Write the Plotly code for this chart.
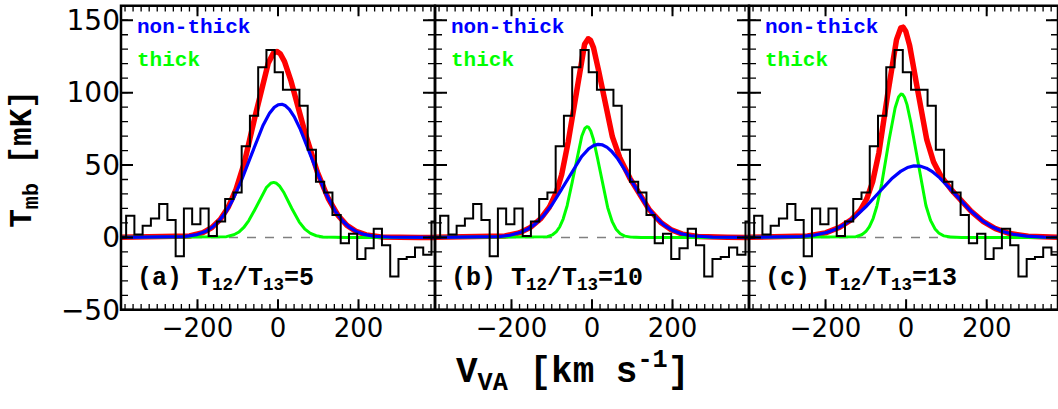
import numpy as np
import plotly.graph_objects as go

# ---------------- data ----------------
# channel centres (km/s) of the observed spectrum
vel = [-387.5, -367, -346.5, -326, -305.5, -285, -264.5, -244, -223.5, -203,
       -182.5, -162, -141.5, -121, -100.5, -80, -59.5, -39, -18.5, 2,
       22.5, 43, 63.5, 84, 104.5, 125, 145.5, 166, 186.5, 207,
       227.5, 248, 268.5, 289, 309.5, 330, 350.5, 371, 391.5]
# observed T_mb (mK), same spectrum in all panels
tmb = [0, 15, 2, 8, 13, 23, 12, -13, 20, 9,
       20, 1, 11, 26.5, 31, 63, 84, 117.5, 129.5, 114,
       102, 102, 91, 60.5, 38.5, 31, 15.5, -4, 2.5, -15,
       -7.5, 6, -5.5, -27, -15, -13.5, -7, -12, 11]

panel_tags = ["(a)", "(b)", "(c)"]
ratios = [5, 10, 13]
# Gaussian components per panel: amplitude (mK), centre (km/s), sigma (km/s)
thick_amp = [38, 76.5, 99]
thick_cen = [-11, -12, -11.5]
thick_sig = [40, 31.5, 35]
nonthick_amp = [92, 64.3, 49.5]
nonthick_cen = [7, 17, 25]
nonthick_sig = [75, 80.5, 96]

xticks = [-200, 0, 200]
yticks = [-50, 0, 50, 100, 150]

# ---------------- figure ----------------
W, H = 1058, 409
fig = go.Figure()

px_left = [121, 435, 749]
px_right = [435, 749, 1058]
xranges = [[-390, 390], [-390, 390], [-390, 377]]
yrange = [-50, 160]
ytop, ybot = 5, 323

vgrid = np.linspace(-400, 400, 1601)
x_minor = np.arange(-380, 381, 20)
y_minor = np.arange(-50, 161, 10)


def gauss(a, c, s):
    return a * np.exp(-0.5 * ((vgrid - c) / s) ** 2)


def xtick_path(vals, frac):
    parts = []
    for t in vals:
        parts.append(f"M{t},0L{t},{frac}")
        parts.append(f"M{t},1L{t},{1 - frac}")
    return "".join(parts)


def ytick_path(vals, frac):
    parts = []
    for v in vals:
        parts.append(f"M0,{v}L{frac},{v}")
        parts.append(f"M1,{v}L{1 - frac},{v}")
    return "".join(parts)


ph = ybot - ytop
for i in range(3):
    xa = "x" if i == 0 else f"x{i+1}"
    ya = "y" if i == 0 else f"y{i+1}"
    g = gauss(thick_amp[i], thick_cen[i], thick_sig[i])
    b = gauss(nonthick_amp[i], nonthick_cen[i], nonthick_sig[i])
    fig.add_trace(go.Scatter(x=vgrid, y=g + b, mode="lines", xaxis=xa, yaxis=ya,
                             line=dict(color="#ff0000", width=5.5), showlegend=False))
    fig.add_trace(go.Scatter(x=vgrid, y=g, mode="lines", xaxis=xa, yaxis=ya,
                             line=dict(color="#00ff00", width=3), showlegend=False))
    fig.add_trace(go.Scatter(x=vgrid, y=b, mode="lines", xaxis=xa, yaxis=ya,
                             line=dict(color="#0000ff", width=3.2), showlegend=False))
    fig.add_trace(go.Scatter(x=vel, y=tmb, mode="lines", line_shape="hvh",
                             xaxis=xa, yaxis=ya,
                             line=dict(color="black", width=2), showlegend=False))

    xdom = [px_left[i] / W, px_right[i] / W]
    ydom = [1 - ybot / H, 1 - ytop / H]
    pw = px_right[i] - px_left[i]
    xkey = "xaxis" if i == 0 else f"xaxis{i+1}"
    ykey = "yaxis" if i == 0 else f"yaxis{i+1}"
    fig.update_layout(**{
        xkey: dict(domain=xdom, range=xranges[i], anchor=ya,
                   tickmode="array", tickvals=xticks,
                   ticktext=[f"\u2212{abs(t)}" if t < 0 else str(t) for t in xticks],
                   tickfont=dict(family="DejaVu Sans", size=26, color="black"),
                   ticks="", showline=False, showgrid=False, zeroline=False),
        ykey: dict(domain=ydom, range=yrange, anchor=xa,
                   tickmode="array", tickvals=yticks,
                   ticktext=[f"\u2212{abs(t)}" if t < 0 else str(t) for t in yticks],
                   showticklabels=(i == 0),
                   tickfont=dict(family="DejaVu Sans", size=28, color="black"),
                   ticks="", showline=False, showgrid=False, zeroline=False),
    })
    # zero reference line
    fig.add_shape(type="line", xref=f"{xa} domain", yref=ya, x0=0, x1=1, y0=0, y1=0,
                  line=dict(color="gray", width=1.5, dash="dash"), layer="below")
    # tick marks drawn inward on all four sides
    fig.add_shape(type="path", xref=xa, yref=f"{ya} domain",
                  path=xtick_path(x_minor, 6 / ph), line=dict(color="black", width=1.3))
    fig.add_shape(type="path", xref=xa, yref=f"{ya} domain",
                  path=xtick_path(xticks, 11 / ph), line=dict(color="black", width=2))
    fig.add_shape(type="path", xref=f"{xa} domain", yref=ya,
                  path=ytick_path(y_minor, 7 / pw), line=dict(color="black", width=1.3))
    fig.add_shape(type="path", xref=f"{xa} domain", yref=ya,
                  path=ytick_path(yticks, 12 / pw), line=dict(color="black", width=2))
    # frame
    fig.add_shape(type="rect", xref="paper", yref="paper",
                  x0=xdom[0], x1=xdom[1], y0=ydom[0], y1=ydom[1],
                  line=dict(color="black", width=2.5))

    mono = "Liberation Mono"
    fig.add_annotation(xref=f"{xa} domain", yref=f"{ya} domain", x=0.045, y=0.928,
                       text="<b>non-thick</b>", showarrow=False, xanchor="left",
                       yanchor="middle", font=dict(family=mono, size=21, color="#0000ff"))
    fig.add_annotation(xref=f"{xa} domain", yref=f"{ya} domain", x=0.045, y=0.82,
                       text="<b>thick</b>", showarrow=False, xanchor="left",
                       yanchor="middle", font=dict(family=mono, size=21, color="#00ff00"))
    fig.add_annotation(xref=f"{xa} domain", yref=f"{ya} domain", x=0.045, y=0.1,
                       text=f"<b>{panel_tags[i]} T<sub>12</sub>/T<sub>13</sub>={ratios[i]}</b>",
                       showarrow=False, xanchor="left", yanchor="middle",
                       font=dict(family=mono, size=25, color="black"))

fig.add_annotation(xref="paper", yref="paper", x=25 / W, y=1 - 165 / H,
                   text="<b>T<sub>mb</sub> [mK]</b>", textangle=-90, showarrow=False,
                   xanchor="center", yanchor="middle",
                   font=dict(family="Liberation Mono", size=31, color="black"))
fig.add_annotation(xref="paper", yref="paper", x=572 / W, y=1 - 388 / H,
                   text="<b>V<sub>VA</sub> [km s<sup>-1</sup>]</b>", showarrow=False,
                   xanchor="center", yanchor="middle",
                   font=dict(family="Liberation Mono", size=36, color="black"))

fig.update_layout(width=W, height=H, margin=dict(l=0, r=0, t=0, b=0),
                  paper_bgcolor="white", plot_bgcolor="white", showlegend=False)
fig.write_html(
    "out.html",
    config={"displayModeBar": False, "responsive": False},
    post_script=(
        "document.documentElement.style.margin='0px';"
        "document.documentElement.style.overflow='hidden';"
        "document.body.style.margin='0px';"
        "document.body.style.overflow='hidden';"
    ),
)
